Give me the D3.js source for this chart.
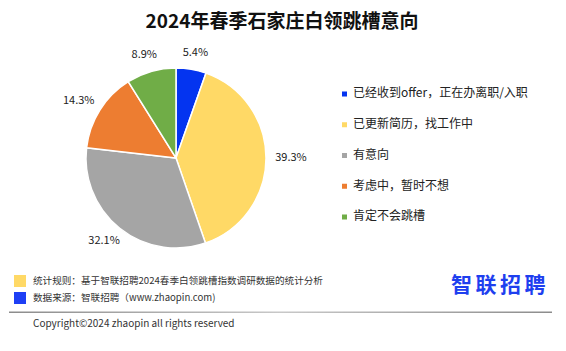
<!DOCTYPE html>
<html lang="zh">
<head>
<meta charset="UTF-8">
<title>2024年春季石家庄白领跳槽意向</title>
<script src="https://d3js.org/d3.v7.min.js"></script>
<style>
  body { margin: 0; background: #fff; }
  svg text { font-family: "Noto Sans CJK SC", "Noto Sans", sans-serif; fill: #222; }
</style>
</head>
<body>
<div id="chart"></div>
<script>
// data
const categories = ["已经收到offer，正在办离职/入职", "已更新简历，找工作中", "有意向", "考虑中，暂时不想", "肯定不会跳槽"];
const values = [5.4, 39.3, 32.1, 14.3, 8.9];
const colors = ["#0434F0", "#FFD966", "#A5A5A5", "#ED7D31", "#70AD47"];
const title = "2024年春季石家庄白领跳槽意向";
const notes = ["统计规则：基于智联招聘2024春季白领跳槽指数调研数据的统计分析", "数据来源：智联招聘（www.zhaopin.com)"];
const noteColors = ["#FFD966", "#1E3FF5"];

const width = 566, height = 351;
const svg = d3.select("#chart").append("svg")
    .attr("width", width).attr("height", height);

svg.append("text")
    .attr("x", 282).attr("y", 23)
    .attr("text-anchor", "middle")
    .attr("dominant-baseline", "middle")
    .style("font-size", "19px").style("font-weight", "bold").style("fill", "#111")
    .text(title);

// pie
const cx = 176, cy = 158, r = 90;
const pie = d3.pie().sort(null).value(d => d)(values);
const arc = d3.arc().innerRadius(0).outerRadius(r);
const g = svg.append("g").attr("transform", `translate(${cx},${cy})`);

g.selectAll("path").data(pie).join("path")
    .attr("d", arc)
    .attr("fill", (d, i) => colors[i])
    .attr("stroke", "#fff").attr("stroke-width", 1.5);

g.selectAll("text").data(pie).join("text")
    .attr("text-anchor", "middle")
    .attr("dominant-baseline", "middle")
    .style("font-size", "11px")
    .attr("x", d => {
        const a = (d.startAngle + d.endAngle) / 2;
        return Math.sin(a) * (r + 11) + Math.sin(a) * 14;
    })
    .attr("y", d => {
        const a = (d.startAngle + d.endAngle) / 2;
        return -Math.cos(a) * (r + 11) - Math.cos(a) * 6;
    })
    .text(d => d.data.toFixed(1) + "%");

// legend
const ly = d3.scalePoint().domain(categories).range([94, 217]);
const legend = svg.append("g");
categories.forEach((c, i) => {
    legend.append("rect")
        .attr("x", 342).attr("y", ly(c) - 2.5)
        .attr("width", 5).attr("height", 5)
        .attr("fill", colors[i]);
    legend.append("text")
        .attr("x", 353).attr("y", ly(c))
        .attr("dominant-baseline", "middle")
        .style("font-size", "12px")
        .text(c);
});

// footer
notes.forEach((n, i) => {
    const y = 281 + i * 17;
    svg.append("rect")
        .attr("x", 14).attr("y", y - 6)
        .attr("width", 12).attr("height", 12)
        .attr("fill", noteColors[i]);
    svg.append("text")
        .attr("x", 33).attr("y", y)
        .attr("dominant-baseline", "middle")
        .style("font-size", "9.6px").style("fill", "#333")
        .text(n);
});

svg.append("text")
    .attr("x", 451).attr("y", 286)
    .attr("dominant-baseline", "middle")
    .style("font-size", "21px").style("font-weight", "bold")
    .style("letter-spacing", "3.5px").style("fill", "#1E3FEF")
    .text("智联招聘");

const grad = svg.append("defs").append("linearGradient").attr("id", "ln");
grad.append("stop").attr("offset", "0%").attr("stop-color", "#8c8c8c");
grad.append("stop").attr("offset", "50%").attr("stop-color", "#c8c8c8");
grad.append("stop").attr("offset", "100%").attr("stop-color", "#8c8c8c");
svg.append("rect")
    .attr("x", 9).attr("y", 311.5).attr("width", 543).attr("height", 1.5)
    .attr("fill", "url(#ln)");

svg.append("text")
    .attr("x", 33).attr("y", 324)
    .attr("dominant-baseline", "middle")
    .style("font-size", "10px").style("fill", "#333")
    .text("Copyright©2024 zhaopin all rights reserved");
</script>
</body>
</html>
